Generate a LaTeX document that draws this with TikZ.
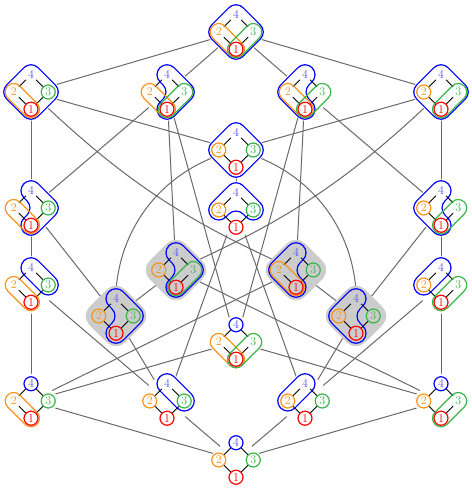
\documentclass[tikz,border=0pt]{standalone}
\pgfdeclarelayer{bg}
\pgfsetlayers{bg,main}
\definecolor{cB}{RGB}{0,0,255}
\definecolor{tB}{RGB}{80,80,245}
\definecolor{cO}{RGB}{247,148,29}
\definecolor{cG}{RGB}{57,181,74}
\definecolor{cR}{RGB}{255,0,0}
\definecolor{connc}{RGB}{105,105,105}
\definecolor{gbg}{RGB}{204,204,204}
\def\hh{17.25}
\def\dd{24.395}
\tikzset{
  hub/.style={inner sep=0pt, minimum size=0pt, outer sep=0pt},
  dig/.style={circle, inner sep=0pt, minimum size=14pt, font=\fontsize{12}{12}\selectfont},
  ol/.style={line width=1.2pt},
  hasse/.style={black, line width=0.8pt},
  conn/.style={draw=connc, line width=1pt},
}
% shapes, drawn in a scope rotated by 45 degrees with element 1 at the origin
\newcommand\BS{\draw[ol,cB] (\dd,\dd) circle (7);}
\newcommand\BF{\draw[ol,cB,rounded corners=10pt] (-10,-10) rectangle ({\dd+10},{\dd+10});}
\newcommand\BA{\draw[ol,cB,rounded corners=10pt] (-10,-10) -- ({\dd+10},-10) -- ({\dd+10},{\dd+10}) -- ({\dd-10},{\dd+10}) -- ({\dd-10},10) -- (-10,10) -- cycle;}
\newcommand\BB{\draw[ol,cB,rounded corners=10pt] (-10,-10) -- (10,-10) -- (10,{\dd-10}) -- ({\dd+10},{\dd-10}) -- ({\dd+10},{\dd+10}) -- (-10,{\dd+10}) -- cycle;}
\newcommand\BV{\draw[ol,cB,rounded corners=10pt] ({\dd+10},-10) -- ({\dd+10},{\dd+10}) -- (-10,{\dd+10}) -- (-10,{\dd-10}) -- ({\dd-10},{\dd-10}) -- ({\dd-10},-10) -- cycle;}
\newcommand\BP{\draw[ol,cB,rounded corners=10pt] ({\dd-10},-10) rectangle ({\dd+10},{\dd+10});}
\newcommand\BQ{\draw[ol,cB,rounded corners=10pt] (-10,{\dd-10}) rectangle ({\dd+10},{\dd+10});}
\newcommand\OS{\draw[ol,cO] (0,\dd) circle (7);}
\newcommand\OC{\draw[ol,cO,rounded corners=8.5pt] (-8.5,-8.5) rectangle (8.5,{\dd+8.5});}
\newcommand\GS{\draw[ol,cG] (\dd,0) circle (7);}
\newcommand\GC{\draw[ol,cG,rounded corners=8.5pt] (-8.5,-8.5) rectangle ({\dd+8.5},8.5);}
% one small diagram: name, x, y (from top), blue, orange, green shapes, hull radius, hull fill
\newcommand\diag[8]{%
\begin{scope}[shift={(#2,{491-#3})}]
  \node[hub] (#1) at (0,0) {};
  \begin{scope}[shift={(0,-\hh)},rotate=45]
    \fill[#8, rounded corners=#7pt] (-#7,-#7) rectangle ({\dd+#7},{\dd+#7});
  \end{scope}
  \node[dig,text=tB] (#1-4) at (0,\hh) {4};
  \node[dig,text=cO] (#1-2) at (-\hh,0) {2};
  \node[dig,text=cG] (#1-3) at (\hh,0) {3};
  \node[dig,text=cR] (#1-1) at (0,-\hh) {1};
  \draw[hasse] (#1-1) -- (#1-2) (#1-1) -- (#1-3) (#1-2) -- (#1-4) (#1-3) -- (#1-4);
  \begin{scope}[shift={(0,-\hh)},rotate=45]
    #4 #5 #6
    \draw[ol,cR] (0,0) circle (7);
  \end{scope}
\end{scope}}
\begin{document}
\begin{tikzpicture}[x=1pt,y=1pt]
\useasboundingbox (0,0) rectangle (472,491);
\diag{A}{236}{32}{\BF}{\OC}{\GC}{11.5}{white}
\diag{B1}{31}{92}{\BF}{\OC}{\GS}{11.5}{white}
\diag{B2}{167}{92}{\BA}{\OC}{\GC}{11.5}{white}
\diag{B3}{305}{92}{\BB}{\OC}{\GC}{11.5}{white}
\diag{B4}{441}{92}{\BF}{\OS}{\GC}{11.5}{white}
\diag{C}{236}{150}{\BF}{\OS}{\GS}{11.5}{white}
\diag{D}{236}{210}{\BV}{\OS}{\GS}{11.5}{white}
\diag{L2}{31}{208}{\BA}{\OC}{\GS}{11.5}{white}
\diag{R2}{441}{208}{\BB}{\OS}{\GC}{11.5}{white}
\diag{L3}{31}{285}{\BP}{\OC}{\GS}{11.5}{white}
\diag{R3}{441}{285}{\BQ}{\OS}{\GC}{11.5}{white}
\diag{G1}{176}{270}{\BA}{\OS}{\GC}{13}{gbg}
\diag{G2}{296}{270}{\BB}{\OC}{\GS}{13}{gbg}
\diag{G3}{116}{316}{\BA}{\OS}{\GS}{13}{gbg}
\diag{G4}{356}{316}{\BB}{\OS}{\GS}{13}{gbg}
\diag{E}{236}{342}{\BS}{\OC}{\GC}{10}{white}
\diag{F1}{31}{401}{\BS}{\OC}{\GS}{10}{white}
\diag{F2}{167}{401}{\BP}{\OS}{\GS}{11.5}{white}
\diag{F3}{305}{401}{\BQ}{\OS}{\GS}{11.5}{white}
\diag{F4}{441}{401}{\BS}{\OS}{\GC}{10}{white}
\diag{H}{236}{460}{\BS}{\OS}{\GS}{8.5}{white}
\begin{pgfonlayer}{bg}
\draw[conn] (A) -- (B1);
\draw[conn] (A) -- (B2);
\draw[conn] (A) -- (B3);
\draw[conn] (A) -- (B4);
\draw[conn] (B1) -- (L2);
\draw[conn] (B1) -- (C);
\draw[conn] (B1) to[bend right=10] (G2);
\draw[conn] (B2) -- (L2);
\draw[conn] (B2) -- (G1);
\draw[conn] (B2) -- (E);
\draw[conn] (B3) -- (G2);
\draw[conn] (B3) -- (R2);
\draw[conn] (B3) -- (E);
\draw[conn] (B4) -- (R2);
\draw[conn] (B4) -- (C);
\draw[conn] (B4) to[bend left=10] (G1);
\draw[conn] (C) -- (D);
\draw[conn] (C) to[bend right=40] (G3);
\draw[conn] (C) to[bend left=40] (G4);
\draw[conn] (L2) -- (L3);
\draw[conn] (L2) -- (G3);
\draw[conn] (R2) -- (R3);
\draw[conn] (R2) -- (G4);
\draw[conn] (G1) -- (G3);
\draw[conn] (G1) -- (F4);
\draw[conn] (G2) -- (G4);
\draw[conn] (G2) -- (F1);
\draw[conn] (L3) -- (F1);
\draw[conn] (L3) -- (F2);
\draw[conn] (R3) -- (F3);
\draw[conn] (R3) -- (F4);
\draw[conn] (D) -- (F2);
\draw[conn] (D) -- (F3);
\draw[conn] (G3) -- (F2);
\draw[conn] (G4) -- (F3);
\draw[conn] (E) -- (F1);
\draw[conn] (E) -- (F4);
\draw[conn] (H) -- (F1);
\draw[conn] (H) -- (F2);
\draw[conn] (H) -- (F3);
\draw[conn] (H) -- (F4);
\end{pgfonlayer}
\end{tikzpicture}
\end{document}
